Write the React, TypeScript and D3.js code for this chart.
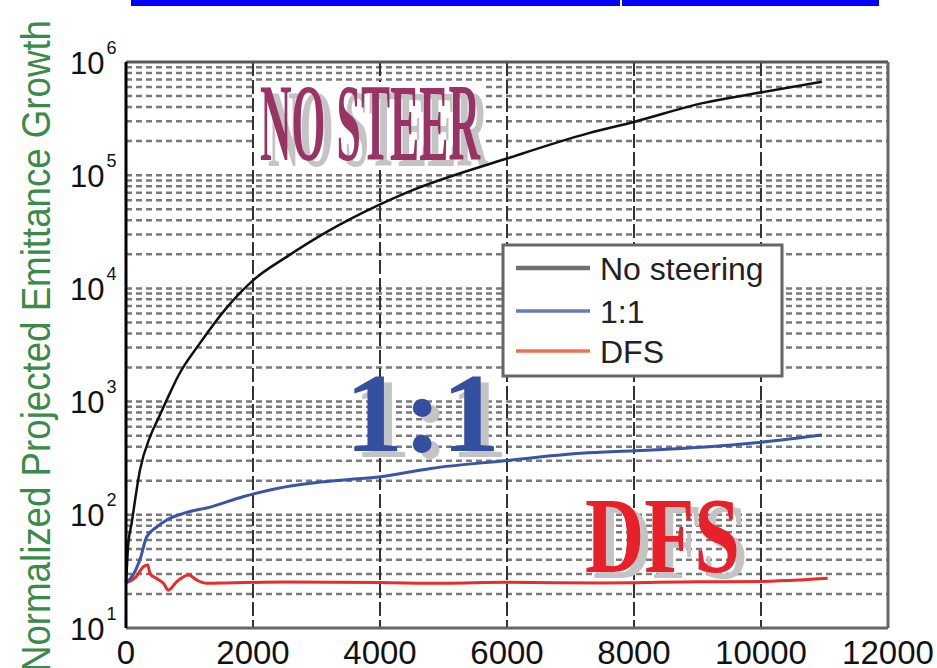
import React from 'react';
import * as d3 from 'd3';

const xTicks = [0, 2000, 4000, 6000, 8000, 10000, 12000];
const yExponents = [1, 2, 3, 4, 5, 6];

const noSteerX = [0, 15, 32, 90, 221, 379, 510, 695, 826, 1168, 1590, 2010, 2537, 3169, 3984, 4437, 6011, 7274, 8011, 9063, 10011, 10958];
const noSteerY = [25, 35, 52, 85, 250, 490, 712, 1200, 1700, 3300, 6800, 11900, 19100, 31700, 54600, 70800, 141000, 234000, 297000, 431000, 540000, 670000];

const oneToOneX = [0, 120, 230, 326, 484, 642, 905, 1326, 1853, 2379, 2905, 3432, 4011, 4800, 5958, 7168, 8011, 8748, 9537, 10327, 10958];
const oneToOneY = [25, 30, 42, 64, 78, 90, 103, 117, 145, 171, 190, 203, 217, 257, 300, 349, 368, 386, 414, 458, 507];

const dfsX = [0, 150, 274, 343, 379, 500, 589, 668, 800, 984, 1116, 1274, 1600, 2500, 4000, 5000, 6000, 7500, 9000, 10000, 10600, 11050];
const dfsY = [25, 28, 34.8, 36, 30, 27, 24.8, 21.6, 25.7, 29.4, 26.5, 24.8, 25, 25.5, 25.2, 24.8, 25.3, 25.0, 25.6, 25.8, 26.5, 27.5];

const legendLabels = ['No steering', '1:1', 'DFS'];
const yTitle = 'Normalized Projected Emittance Growth';

export default function App() {
  const x = d3.scaleLinear().domain([0, 12000]).range([126, 888]);
  const y = d3.scaleLog().domain([10, 1e6]).range([628, 62]);
  const line = d3
    .line<[number, number]>()
    .x((d) => x(d[0]))
    .y((d) => y(d[1]))
    .curve(d3.curveMonotoneX);

  const zip = (a: number[], b: number[]) => a.map((v, i) => [v, b[i]] as [number, number]);

  const hGrid: number[] = [];
  for (let e = 1; e <= 5; e++) {
    for (let m = 1; m <= 9; m++) {
      const v = m * Math.pow(10, e);
      if (v > 10) hGrid.push(v);
    }
  }

  const sans = 'Liberation Sans, Arial, sans-serif';
  const serif = 'Liberation Serif, Times New Roman, serif';
  const [x0, x1] = x.range();
  const [yb, yt] = y.range();

  const legendColors = ['#707070', '#6a78be', '#f07050'];
  const legendWidths = [4.5, 3.5, 3.5];
  const legendYs = [268, 311, 351];

  return (
    <svg width={937} height={668} style={{ position: 'absolute', left: 0, top: 0, background: '#fff' }}>
      <rect x={0} y={0} width={937} height={668} fill="#fff" />
      {/* top blue bar */}
      <rect x={131} y={0} width={748} height={6} fill="#0000ff" />
      <rect x={620} y={0} width={2} height={6} fill="#fff" />

      {/* horizontal grid */}
      {hGrid.map((v, i) => (
        <line key={'h' + i} x1={x0} x2={x1} y1={y(v)} y2={y(v)} stroke="#7a7a7a" strokeWidth={2.5} strokeDasharray="6,4" />
      ))}
      {/* vertical grid */}
      {xTicks.slice(1, -1).map((t) => (
        <line key={'v' + t} x1={x(t)} x2={x(t)} y1={yt} y2={yb} stroke="#333" strokeWidth={2} strokeDasharray="14,4" />
      ))}

      {/* NO STEER label */}
      <rect x={256} y={82} width={230} height={84} fill="#fff" />
      <text x={268} y={166} fontFamily={serif} fontWeight="bold" fontSize={110} fill="#c4c4c4" textLength={220} lengthAdjust="spacingAndGlyphs">NO STEER</text>
      <text x={260} y={160} fontFamily={serif} fontWeight="bold" fontSize={110} fill="#993366" textLength={220} lengthAdjust="spacingAndGlyphs">NO STEER</text>

      {/* 1:1 label */}
      <text x={353} y={457} fontFamily={serif} fontWeight="bold" fontSize={113} fill="#c4c4c4" textLength={155} lengthAdjust="spacingAndGlyphs">1:1</text>
      <text x={345} y={451} fontFamily={serif} fontWeight="bold" fontSize={113} fill="#3350a0" textLength={155} lengthAdjust="spacingAndGlyphs">1:1</text>

      {/* DFS label */}
      <text x={593} y={578} fontFamily={serif} fontWeight="bold" fontSize={109} fill="#c4c4c4" textLength={155} lengthAdjust="spacingAndGlyphs">DFS</text>
      <text x={585} y={572} fontFamily={serif} fontWeight="bold" fontSize={109} fill="#e8202a" textLength={155} lengthAdjust="spacingAndGlyphs">DFS</text>

      {/* data lines */}
      <path d={line(zip(dfsX, dfsY)) || ''} fill="none" stroke="#ec2a2a" strokeWidth={3} />
      <path d={line(zip(oneToOneX, oneToOneY)) || ''} fill="none" stroke="#3a55a8" strokeWidth={3} />
      <path d={line(zip(noSteerX, noSteerY)) || ''} fill="none" stroke="#111" strokeWidth={2.5} />

      {/* axes box */}
      <line x1={x0} x2={x1} y1={yt} y2={yt} stroke="#555" strokeWidth={3} />
      <line x1={x0} x2={x1} y1={yb} y2={yb} stroke="#666" strokeWidth={3} />
      <line x1={x1} x2={x1} y1={yt} y2={yb} stroke="#666" strokeWidth={3} />
      <line x1={x0} x2={x0} y1={yt} y2={yb} stroke="#000" strokeWidth={3} />

      {/* legend */}
      <rect x={503} y={245} width={279} height={131} fill="#fff" stroke="#666" strokeWidth={3} />
      {legendLabels.map((lab, i) => (
        <g key={lab}>
          <line x1={516} x2={590} y1={legendYs[i]} y2={legendYs[i]} stroke={legendColors[i]} strokeWidth={legendWidths[i]} />
          <text x={600} y={legendYs[i] + 12} fontFamily={sans} fontSize={32} fill="#222">{lab}</text>
        </g>
      ))}

      {/* x tick labels */}
      {xTicks.map((t) => (
        <text key={'xt' + t} x={x(t)} y={664} textAnchor="middle" fontFamily={sans} fontSize={33} fill="#111">{t}</text>
      ))}

      {/* y tick labels */}
      {yExponents.map((e) => (
        <text key={'yt' + e} x={70} y={y(Math.pow(10, e)) + 11.5} fontFamily={sans} fontSize={31} fill="#111">
          10
          <tspan dx={2} dy={-20} fontSize={18}>{e}</tspan>
        </text>
      ))}

      {/* y title */}
      <text transform="translate(50,672) rotate(-90)" fontFamily={sans} fontSize={40} fill="#3a8a4a" textLength={652} lengthAdjust="spacingAndGlyphs">{yTitle}</text>
    </svg>
  );
}
